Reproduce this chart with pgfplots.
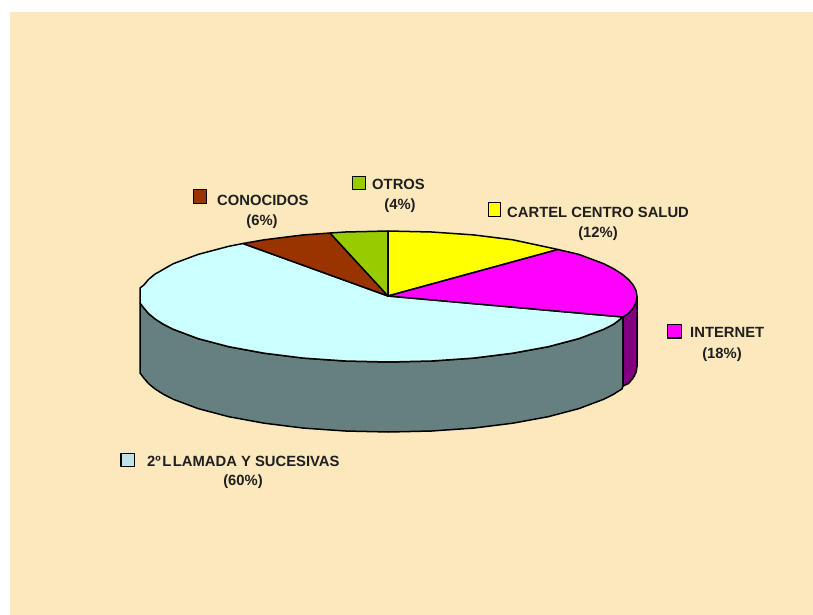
\documentclass[border=0pt]{standalone}
\usepackage{fontspec}
\setmainfont{Liberation Sans}
\usepackage{pgfplots}
\pgfplotsset{compat=1.18}
\definecolor{fondo}{HTML}{FCE8BD}
\definecolor{celeste}{HTML}{CCFFFF}
\definecolor{pared}{HTML}{668080}
\definecolor{morado}{HTML}{800080}
\definecolor{magenta2}{HTML}{FF00FF}
\definecolor{marron}{HTML}{993300}
\definecolor{verde}{HTML}{99CC00}
\definecolor{amarillo}{HTML}{FFFF00}
\definecolor{clavecel}{HTML}{BFE2E8}
\tikzset{etiq/.style={font=\fontsize{14.8}{16}\selectfont\bfseries, text=black!88, inner sep=0pt}}
\begin{document}
\begin{tikzpicture}
\begin{axis}[
  scale only axis, width=813pt, height=615pt,
  xmin=0, xmax=813, ymin=0, ymax=615, y dir=reverse,
  hide axis, clip=true,
  every axis plot/.append style={no markers, line width=1.5pt, line join=round},
]
% fondo
\addplot[fill=white, draw=none] coordinates {(0,0) (813,0) (813,615) (0,615)} --cycle;
\addplot[fill=fondo, draw=none] coordinates {(10,12) (813,12) (813,615) (10,615)} --cycle;

% pared gris
\addplot[fill=pared, draw=black] coordinates {
 (140,303) (143.8,307.9) (148.5,313.5) (155,318.9) (163.3,324.2) (173.3,329.3)
 (198.1,338.6) (228.8,346.7) (264.2,353.2) (303.5,358.1) (345.4,361) (388.5,362)
 (431.6,361) (473.5,358.1) (512.8,353.2) (548.2,346.7) (578.9,338.6) (603.7,329.3)
 (613.7,324.2) (623,317) (623,386) (622,388.9) (613.7,394.2) (603.7,399.3)
 (578.9,408.6) (548.2,416.7) (512.8,423.2) (473.5,428.1) (431.6,431) (388.5,432)
 (345.4,431) (303.5,428.1) (264.2,423.2) (228.8,416.7) (198.1,408.6) (173.3,399.3)
 (163.3,394.2) (155,388.9) (148.5,383.5) (143.8,378) (140,373)} --cycle;
% pared morada
\addplot[fill=morado, draw=black] coordinates {
 (623,317) (628.5,313.5) (633.2,307.9) (636.1,302.2) (637,296.5)
 (637,366.5) (636.1,372.2) (633.2,377.9) (628.5,383.5) (623,386)} --cycle;

% 2a llamada
\addplot[fill=celeste, draw=black] coordinates {
 (388,296) (623,317) (613.7,324.2) (603.7,329.3) (578.9,338.6) (548.2,346.7)
 (512.8,353.2) (473.5,358.1) (431.6,361) (388.5,362) (345.4,361) (303.5,358.1)
 (264.2,353.2) (228.8,346.7) (198.1,338.6) (173.3,329.3) (163.3,324.2) (155,318.9)
 (148.5,313.5) (143.8,307.9) (140,303) (140,288) (143.8,285.1) (148.5,279.5)
 (155,274.1) (173.3,263.7) (198.1,254.4) (228.8,246.3) (243,243.5)} --cycle;
% conocidos
\addplot[fill=marron, draw=black] coordinates {
 (388,296) (243,243.5) (264.2,239.8) (303.5,234.9) (330,233)} --cycle;
% otros
\addplot[fill=verde, draw=black] coordinates {
 (388,296) (330,233) (345.4,232) (388,231)} --cycle;
% cartel
\addplot[fill=amarillo, draw=black] coordinates {
 (388,296) (388,231) (431.6,232) (473.5,234.9) (512.8,239.8) (558,249.5)} --cycle;
% internet
\addplot[fill=magenta2, draw=black] coordinates {
 (388,296) (558,249.5) (578.9,254.4) (603.7,263.7) (613.7,268.8) (622,274.1)
 (628.5,279.5) (633.2,285.1) (636.1,290.8) (637,296.5) (636.1,302.2) (633.2,307.9)
 (628.5,313.5) (623,317)} --cycle;

% claves de la leyenda
\addplot[fill=marron, draw=black, line width=1.8pt] coordinates {(193.5,189.5) (206.5,189.5) (206.5,203.5) (193.5,203.5)} --cycle;
\addplot[fill=verde, draw=black, line width=1.8pt] coordinates {(352.5,176.5) (365.5,176.5) (365.5,189.5) (352.5,189.5)} --cycle;
\addplot[fill=amarillo, draw=black, line width=1.8pt] coordinates {(488.5,202.5) (500.5,202.5) (500.5,216.5) (488.5,216.5)} --cycle;
\addplot[fill=magenta2, draw=black, line width=1.8pt] coordinates {(667.5,324.5) (681.5,324.5) (681.5,338) (667.5,338)} --cycle;
\addplot[fill=clavecel, draw=black, line width=1.8pt] coordinates {(121,453.5) (134.5,453.5) (134.5,466.5) (121,466.5)} --cycle;

% etiquetas
\node[etiq, anchor=base west] at (axis cs:217,205) {CONOCIDOS};
\node[etiq, anchor=base] at (axis cs:262,225) {(6\%)};
\node[etiq, anchor=base west] at (axis cs:372,189) {OTROS};
\node[etiq, anchor=base] at (axis cs:400,209) {(4\%)};
\node[etiq, anchor=base west] at (axis cs:507,217) {CARTEL CENTRO SALUD};
\node[etiq, anchor=base] at (axis cs:598,237) {(12\%)};
\node[etiq, anchor=base west] at (axis cs:690,337) {INTERNET};
\node[etiq, anchor=base] at (axis cs:722,358) {(18\%)};
\node[etiq, anchor=base west] at (axis cs:147,466) {2º\kern1.5pt L\kern1.5pt LAMADA Y SUCESIVAS};
\node[etiq, anchor=base] at (axis cs:243,485) {(60\%)};
\end{axis}
\end{tikzpicture}
\end{document}
